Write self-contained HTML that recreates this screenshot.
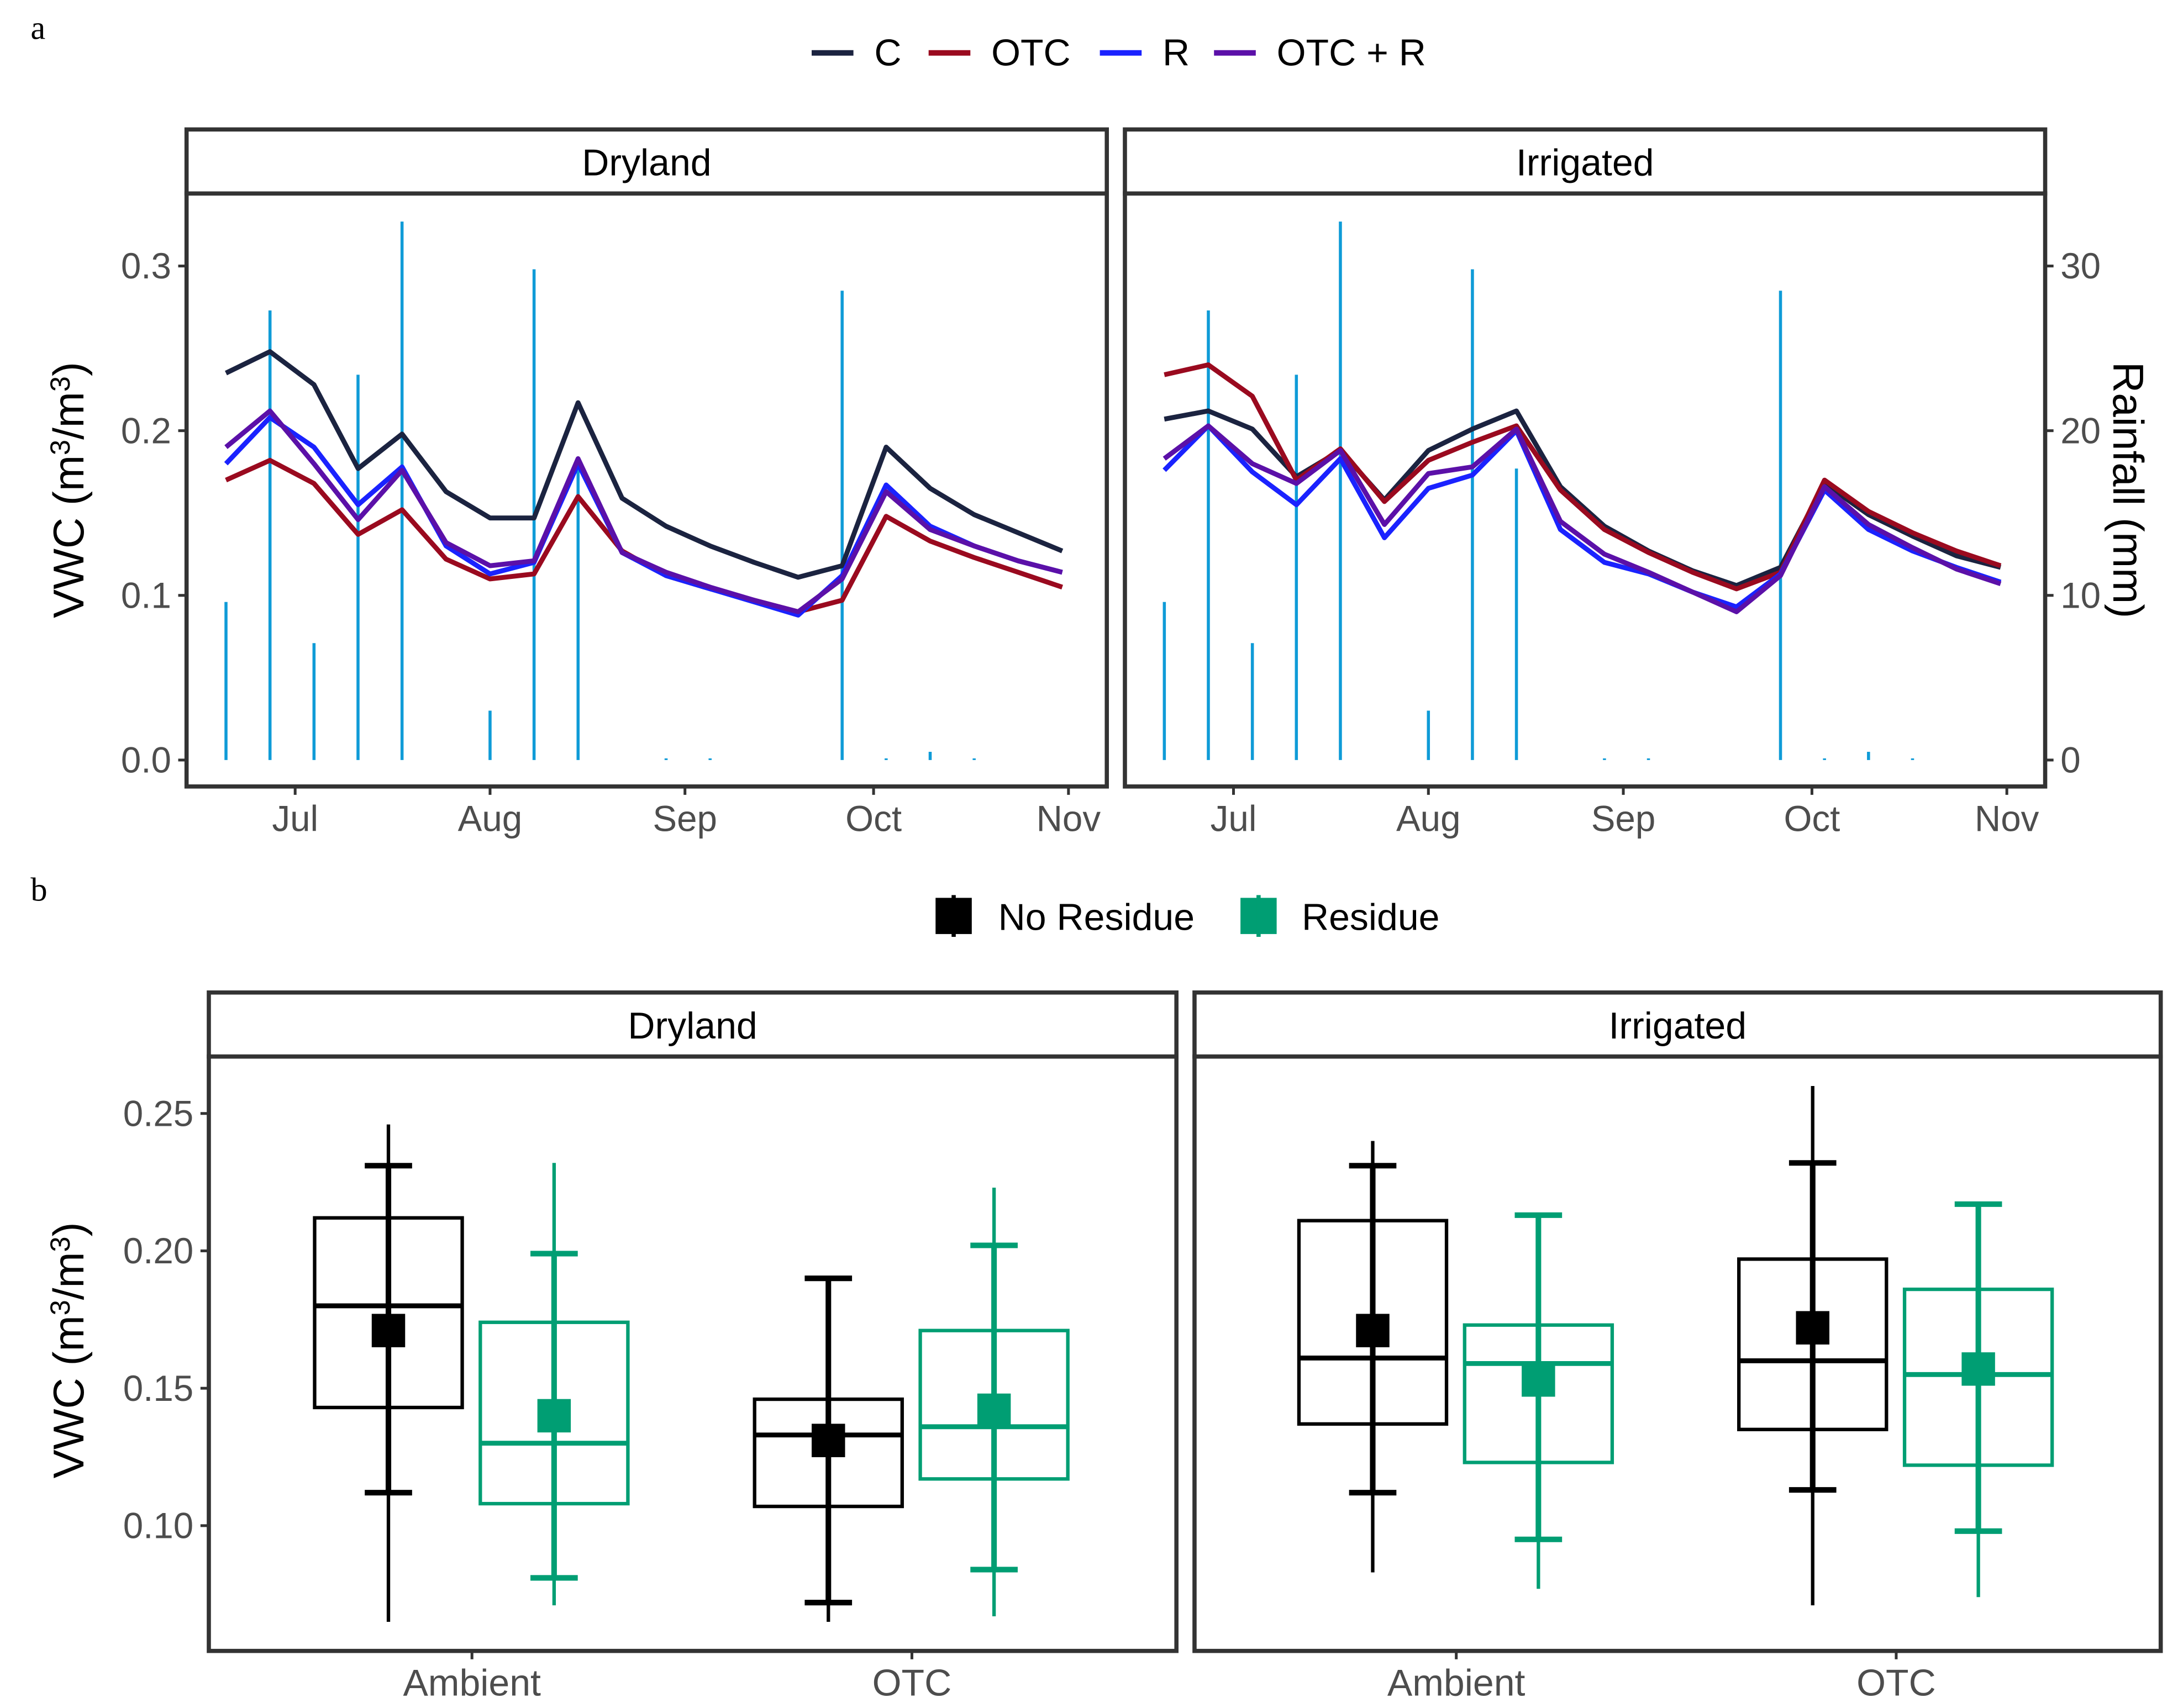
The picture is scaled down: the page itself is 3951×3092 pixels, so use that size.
<!DOCTYPE html>
<html><head><meta charset="utf-8"><style>
html,body{margin:0;padding:0;background:#fff}
svg{display:block}
text{font-family:"Liberation Sans",sans-serif}
</style></head><body>
<svg id="chart" xmlns="http://www.w3.org/2000/svg" width="3951" height="3092" viewBox="0 0 1568 1227" preserveAspectRatio="none"></svg>
<script>
// ---------- Panel a data ----------
const days = [-11,-4,3,10,17,24,31,38,45,52,59,66,73,80,87,94,101,108,115,122];
const rainfall = [9.6,27.3,7.1,23.4,32.7,0,3.0,29.8,17.7,0,0.1,0.1,0,0,28.5,0.1,0.5,0.1,0,0];
const seriesNames = ["C","OTC","R","OTC + R"];
const dryC = [0.235,0.248,0.228,0.177,0.198,0.163,0.147,0.147,0.217,0.159,0.142,0.130,0.120,0.111,0.118,0.190,0.165,0.149,0.138,0.127];
const dryOTC = [0.170,0.182,0.168,0.137,0.152,0.122,0.110,0.113,0.160,0.127,0.112,0.104,0.097,0.090,0.097,0.148,0.133,0.123,0.114,0.105];
const dryR = [0.180,0.208,0.190,0.155,0.178,0.130,0.113,0.120,0.180,0.126,0.112,0.104,0.096,0.088,0.112,0.167,0.142,0.130,0.121,0.114];
const dryOTCR = [0.190,0.212,0.180,0.146,0.176,0.132,0.118,0.121,0.183,0.126,0.114,0.105,0.097,0.090,0.110,0.163,0.140,0.130,0.121,0.114];
const irrC = [0.207,0.212,0.201,0.172,0.188,0.158,0.188,0.201,0.212,0.166,0.142,0.127,0.115,0.106,0.117,0.168,0.149,0.136,0.124,0.117];
const irrOTC = [0.234,0.240,0.221,0.170,0.189,0.157,0.182,0.193,0.203,0.164,0.140,0.126,0.114,0.104,0.114,0.170,0.151,0.138,0.127,0.118];
const irrR = [0.176,0.203,0.175,0.155,0.183,0.135,0.165,0.173,0.200,0.140,0.120,0.113,0.102,0.093,0.113,0.164,0.140,0.127,0.117,0.108];
const irrOTCR = [0.183,0.203,0.180,0.168,0.188,0.143,0.174,0.178,0.201,0.145,0.125,0.114,0.102,0.090,0.112,0.166,0.143,0.129,0.116,0.107];
const monthLabels = ["Jul","Aug","Sep","Oct","Nov"];
const monthDays = [0,31,62,92,123];
const vwcTicksA = [0.0,0.1,0.2,0.3];
const rainTicks = [0,10,20,30];
// ---------- Panel b data ----------
const treatments = ["Ambient","OTC"];
const residues = ["No Residue","Residue"];
const boxLow = [[[0.143,0.108],[0.107,0.117]],[[0.137,0.123],[0.135,0.122]]];
const boxHigh = [[[0.212,0.174],[0.146,0.171]],[[0.211,0.173],[0.197,0.186]]];
const medians = [[[0.180,0.130],[0.133,0.136]],[[0.161,0.159],[0.160,0.155]]];
const whiskLow = [[[0.065,0.071],[0.065,0.067]],[[0.083,0.077],[0.071,0.074]]];
const whiskHigh = [[[0.246,0.232],[0.190,0.223]],[[0.240,0.213],[0.260,0.217]]];
const capLow = [[[0.112,0.081],[0.072,0.084]],[[0.112,0.095],[0.113,0.098]]];
const capHigh = [[[0.231,0.199],[0.190,0.202]],[[0.231,0.213],[0.232,0.217]]];
const means = [[[0.171,0.140],[0.131,0.142]],[[0.171,0.153],[0.172,0.157]]];
const vwcTicksB = [0.10,0.15,0.20,0.25];

const NS="http://www.w3.org/2000/svg";
const svg=document.getElementById('chart');
function mk(tag,attrs,parent,txt){const e=document.createElementNS(NS,tag);for(const k in attrs)e.setAttribute(k,attrs[k]);if(txt!==undefined)e.textContent=txt;(parent||svg).appendChild(e);return e;}

const colA={"C":"#1b2340","OTC":"#9a0a1f","R":"#1a22ff","OTC + R":"#5b10a8"};
const rainCol="#0f9bd7";
const green="#009e73";

let t=mk('text',{x:22,y:28,'font-size':24,style:'font-family:"Liberation Serif",serif'},svg,'a');

t=mk('text',{x:22,y:647,'font-size':24,style:'font-family:"Liberation Serif",serif'},svg,'b');


const legX=[583,667,790,872];
seriesNames.forEach((n,i)=>{
  const g=mk('g',{});
  
  
  mk('line',{x1:legX[i],x2:legX[i]+30,y1:38,y2:38,stroke:colA[n],'stroke-width':4},g);
  mk('text',{x:legX[i]+45,y:47,'font-size':27,fill:'#000'},g,n);
});

const y0A=546, pxPerA=1183;
const yA=v=>y0A-v*pxPerA;
const yRain=r=>y0A-r*11.83;
const panelsA=[{name:'Dryland',x0:134,x1:795,off:0,data:[dryC,dryOTC,dryR,dryOTCR]},
               {name:'Irrigated',x0:808,x1:1469,off:674,data:[irrC,irrOTC,irrR,irrOTCR]}];
const xA=(d,off)=>212+off+d*4.516;
panelsA.forEach((p,pi)=>{
  const g=mk('g',{});
  
  
  const s=mk('rect',{x:p.x0,y:93,width:p.x1-p.x0,height:46,fill:'#fff',stroke:'#333','stroke-width':3},g);
  
  
  mk('text',{x:(p.x0+p.x1)/2,y:126,'text-anchor':'middle','font-size':27},g,p.name);
  days.forEach((d,i)=>{
    if(rainfall[i]<=0)return;
    const b=mk('line',{x1:xA(d,p.off),x2:xA(d,p.off),y1:y0A,y2:yRain(rainfall[i]),stroke:rainCol,'stroke-width':2.2},g);
    
    
  });
  p.data.forEach((arr,si)=>{
    const pts=arr.map((v,i)=>xA(days[i],p.off).toFixed(1)+','+yA(v).toFixed(1)).join(' ');
    const l=mk('polyline',{points:pts,fill:'none',stroke:colA[seriesNames[si]],'stroke-width':3.5,'stroke-linejoin':'round'},g);
    
    
  });
  mk('rect',{x:p.x0,y:139,width:p.x1-p.x0,height:426,fill:'none',stroke:'#333','stroke-width':3},g);
  monthLabels.forEach((m,i)=>{
    const x=xA(monthDays[i],p.off);
    mk('line',{x1:x,x2:x,y1:565,y2:571,stroke:'#333','stroke-width':2},g);
    mk('text',{x:x,y:597,'text-anchor':'middle','font-size':26,fill:'#4d4d4d'},g,m);
  });
});
vwcTicksA.forEach(v=>{
  mk('line',{x1:128,x2:134,y1:yA(v),y2:yA(v),stroke:'#333','stroke-width':2});
  mk('text',{x:123,y:yA(v)+9,'text-anchor':'end','font-size':26,fill:'#4d4d4d'},svg,v.toFixed(1));
});
rainTicks.forEach(r=>{
  mk('line',{x1:1469,x2:1475,y1:yRain(r),y2:yRain(r),stroke:'#333','stroke-width':2});
  mk('text',{x:1480,y:yRain(r)+9,'font-size':26,fill:'#4d4d4d'},svg,String(r));
});
t=mk('text',{transform:'translate(60,352) rotate(-90)','text-anchor':'middle','font-size':31},svg);

t.innerHTML='VWC (m<tspan dy="-10" font-size="20">3</tspan><tspan dy="10">/m</tspan><tspan dy="-10" font-size="20">3</tspan><tspan dy="10">)</tspan>';
t=mk('text',{transform:'translate(1518,352) rotate(90)','text-anchor':'middle','font-size':31},svg,'Rainfall (mm)');


[[685,'#000','No Residue',717],[904,green,'Residue',935]].forEach(([x,c,n,tx])=>{
  const g=mk('g',{});
  
  
  mk('rect',{x:x-13,y:645,width:26,height:26,fill:c},g);
  mk('line',{x1:x,x2:x,y1:643,y2:673,stroke:c,'stroke-width':3},g);
  mk('text',{x:tx,y:668,'font-size':27},g,n);
});

const y0B=1096, pxPerB=1974;
const yB=v=>y0B-(v-0.10)*pxPerB;
const panelsB=[{name:'Dryland',x0:150,x1:845,cx:[339,655]},{name:'Irrigated',x0:858,x1:1552,cx:[1046,1362]}];
panelsB.forEach((p,si)=>{
  const g=mk('g',{});
  
  
  const s=mk('rect',{x:p.x0,y:713,width:p.x1-p.x0,height:46,fill:'#fff',stroke:'#333','stroke-width':3},g);
  
  
  mk('text',{x:(p.x0+p.x1)/2,y:746,'text-anchor':'middle','font-size':27},g,p.name);
  treatments.forEach((tr,ti)=>{
    residues.forEach((rs,ri)=>{
      const c=ri===0?'#000':green;
      const x=p.cx[ti]+(ri===0?-60:59);
      const bg=mk('g',{},g);
      
      
      mk('line',{x1:x,x2:x,y1:yB(whiskLow[si][ti][ri]),y2:yB(whiskHigh[si][ti][ri]),stroke:c,'stroke-width':2.5},bg);
      mk('rect',{x:x-53,y:yB(boxHigh[si][ti][ri]),width:106,height:yB(boxLow[si][ti][ri])-yB(boxHigh[si][ti][ri]),fill:'none',stroke:c,'stroke-width':2.5},bg);
      mk('line',{x1:x-53,x2:x+53,y1:yB(medians[si][ti][ri]),y2:yB(medians[si][ti][ri]),stroke:c,'stroke-width':3.5},bg);
      mk('line',{x1:x,x2:x,y1:yB(capLow[si][ti][ri]),y2:yB(capHigh[si][ti][ri]),stroke:c,'stroke-width':4},bg);
      [capLow,capHigh].forEach(a=>mk('line',{x1:x-17,x2:x+17,y1:yB(a[si][ti][ri]),y2:yB(a[si][ti][ri]),stroke:c,'stroke-width':4},bg));
      mk('rect',{x:x-12,y:yB(means[si][ti][ri])-12,width:24,height:24,fill:c},bg);
    });
    mk('line',{x1:p.cx[ti],x2:p.cx[ti],y1:1186,y2:1192,stroke:'#333','stroke-width':2},g);
    mk('text',{x:p.cx[ti],y:1218,'text-anchor':'middle','font-size':27,fill:'#4d4d4d'},g,tr);
  });
  mk('rect',{x:p.x0,y:759,width:p.x1-p.x0,height:427,fill:'none',stroke:'#333','stroke-width':3},g);
});
vwcTicksB.forEach(v=>{
  mk('line',{x1:144,x2:150,y1:yB(v),y2:yB(v),stroke:'#333','stroke-width':2});
  mk('text',{x:139,y:yB(v)+9,'text-anchor':'end','font-size':26,fill:'#4d4d4d'},svg,v.toFixed(2));
});
t=mk('text',{transform:'translate(60,970) rotate(-90)','text-anchor':'middle','font-size':31},svg);

t.innerHTML='VWC (m<tspan dy="-10" font-size="20">3</tspan><tspan dy="10">/m</tspan><tspan dy="-10" font-size="20">3</tspan><tspan dy="10">)</tspan>';
</script>
</body></html>
